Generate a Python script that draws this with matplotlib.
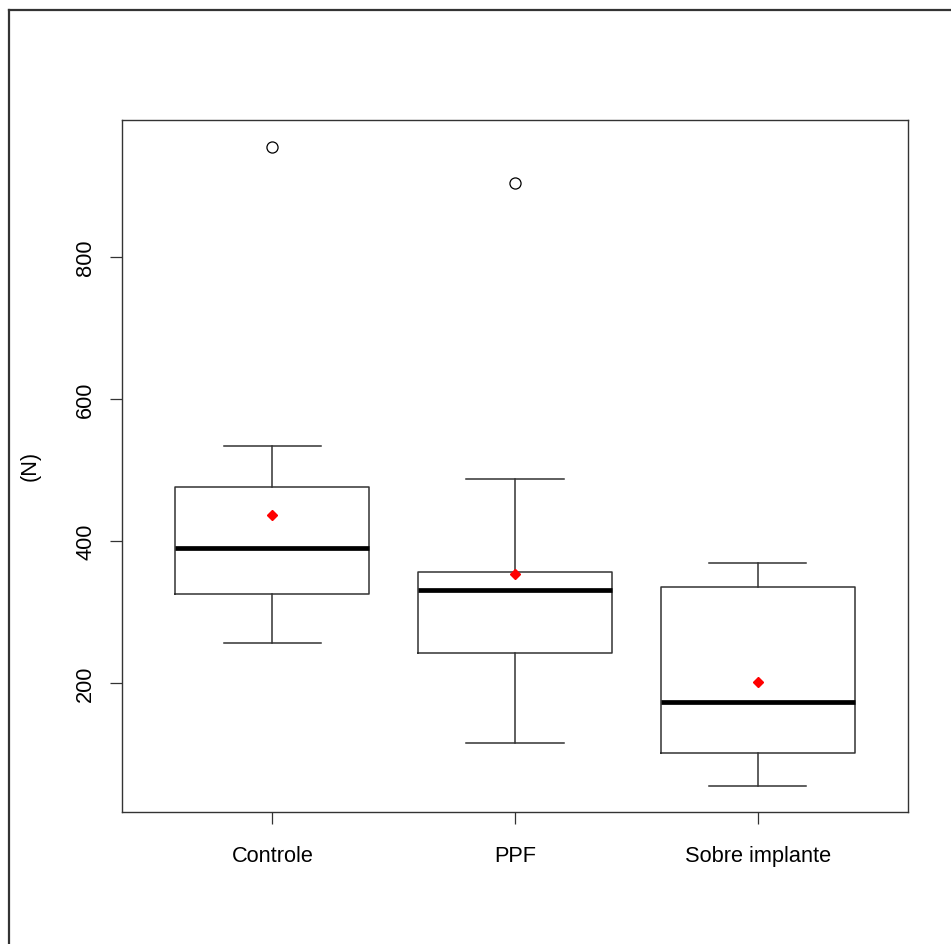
import matplotlib
matplotlib.use("Agg")
import matplotlib.pyplot as plt
from matplotlib.lines import Line2D

plt.rcParams['font.family'] = ['Liberation Sans', 'DejaVu Sans']

groups = ["Controle", "PPF", "Sobre implante"]
whislo = [256, 115, 55]
q1 = [325, 242, 101]
medians = [390, 331, 173]
q3 = [476, 356, 335]
whishi = [534, 487, 369]
means = [437, 353, 201]
outliers = [[955], [904], []]

stats = []
for i in range(len(groups)):
    stats.append(dict(label=groups[i], whislo=whislo[i], q1=q1[i], med=medians[i],
                      q3=q3[i], whishi=whishi[i], fliers=outliers[i]))

fig = plt.figure(figsize=(9.51, 9.45), dpi=100)
ax = fig.add_axes([122/951, 1 - 813/945, (908 - 122)/951, (813 - 121)/945])

lc = "#333333"
ax.bxp(stats, positions=[1, 2, 3], widths=0.8, showfliers=True,
       boxprops=dict(color=lc, linewidth=1.1),
       whiskerprops=dict(color=lc, linewidth=1.1),
       capprops=dict(color=lc, linewidth=1.1),
       medianprops=dict(color="black", linewidth=3.4, solid_capstyle="butt"),
       flierprops=dict(marker="o", markersize=8, markerfacecolor="none",
                       markeredgecolor="black", markeredgewidth=0.9))
ax.plot([1, 2, 3], means, linestyle="none", marker="D", markersize=5,
        color="red", zorder=5)

ax.set_xlim(0.38, 3.62)
ax.set_ylim(18.3, 993)
ax.set_yticks([200, 400, 600, 800])
ax.set_xticks([1, 2, 3])
ax.set_xticklabels(groups)
for lab in ax.get_yticklabels():
    lab.set_rotation(90)
    lab.set_verticalalignment("center")
ax.tick_params(axis="both", direction="out", length=8.6, width=0.9,
               color=lc, labelsize=15.7)
ax.tick_params(axis="y", pad=10)
ax.tick_params(axis="x", pad=15)
for sp in ax.spines.values():
    sp.set_color(lc)
    sp.set_linewidth(1.0)

fig.text(30/951, 1 - 466/945, "(N)", rotation=90, ha="center", va="center",
         fontsize=15.7)

# outer frame (left and top only)
fig.add_artist(Line2D([9/951, 9/951], [0, 1 - 11/945], transform=fig.transFigure,
                      color="#333333", linewidth=1.6))
fig.add_artist(Line2D([9/951, 1], [1 - 11/945, 1 - 11/945], transform=fig.transFigure,
                      color="#333333", linewidth=1.6))

fig.savefig("out.png", dpi=100)
